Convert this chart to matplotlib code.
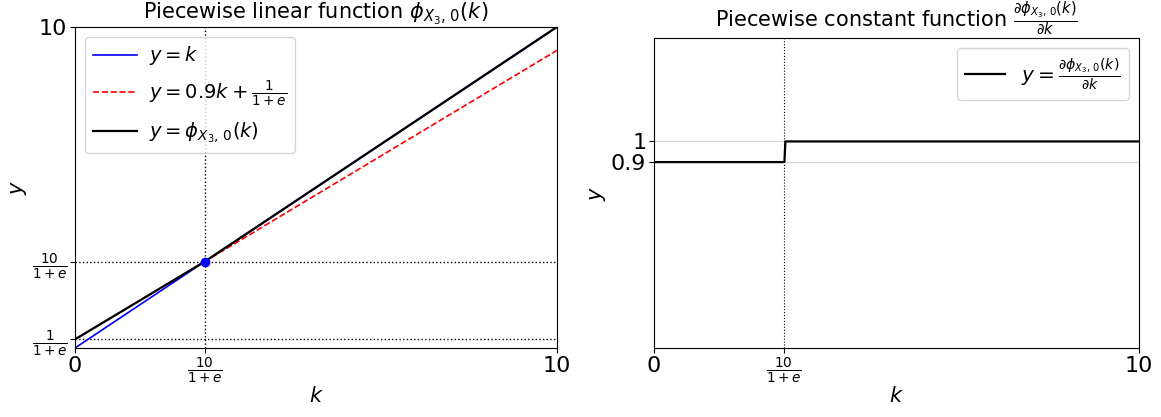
import numpy as np
import matplotlib
matplotlib.use("Agg")
import matplotlib.pyplot as plt

# kink of the piecewise function
kink = 10 / (1 + np.e)
low = 1 / (1 + np.e)

# left panel: k values and the three lines
k_pts = [0, kink, 10]
y_identity = [0, kink, 10]
y_affine = [low, kink, 0.9 * 10 + low]
y_phi = [low, kink, 10]

# right panel: derivative (step)
k_step = [0, kink, kink + 0.02, 10]
dphi = [0.9, 0.9, 1.0, 1.0]

frac_lbl = r'$\frac{10}{1+e}$'

fig = plt.figure(figsize=(11.61, 4.17), dpi=100)
ax1 = fig.add_axes([0.0646, 0.1655, 0.4152, 0.770])
ax2 = fig.add_axes([0.5633, 0.1655, 0.4177, 0.743])

# left
ax1.plot(k_pts, y_identity, color='blue', lw=1.2, label=r'$y = k$')
ax1.plot(k_pts, y_affine, color='red', ls='--', lw=1.2, label=r'$y = 0.9k + \frac{1}{1+e}$')
ax1.plot(k_pts, y_phi, color='black', lw=1.6, label=r'$y = \phi_{X_3,\,0}(k)$')
ax1.axvline(kink, color='black', ls=':', lw=1)
ax1.axhline(kink, color='black', ls=':', lw=1)
ax1.axhline(low, color='black', ls=':', lw=1)
ax1.plot([kink], [kink], 'o', color='blue', ms=6)
ax1.set_xlim(0, 10)
ax1.set_ylim(0, 10)
ax1.set_xticks([0, kink, 10])
ax1.set_xticklabels(['0', frac_lbl, '10'])
ax1.set_yticks([low, kink, 10])
ax1.set_yticklabels([r'$\frac{1}{1+e}$', frac_lbl, '10'])
ax1.tick_params(labelsize=16, pad=2)
for t in ax1.get_xticklabels()[1:2] + ax1.get_yticklabels()[:2]:
    t.set_fontsize(14)
ax1.set_xlabel(r'$k$', fontsize=15, labelpad=0)
ax1.set_ylabel(r'$y$', fontsize=15, labelpad=2)
ax1.set_title(r'Piecewise linear function $\phi_{X_3,\,0}(k)$', fontsize=15)
ax1.legend(loc='upper left', fontsize=14, handlelength=2.3, handletextpad=0.6,
           labelspacing=0.6)

# right
ax2.plot(k_step, dphi, color='black', lw=1.6,
         label=r'$y = \frac{\partial \phi_{X_3,\,0}(k)}{\partial k}$')
ax2.axvline(kink, color='black', ls=':', lw=0.8)
ax2.set_xlim(0, 10)
ax2.set_ylim(0, 1.5)
ax2.set_xticks([0, kink, 10])
ax2.set_xticklabels(['0', frac_lbl, '10'])
ax2.set_yticks([0.9, 1])
ax2.set_yticklabels(['0.9', '1'])
ax2.yaxis.grid(True, color='lightgray')
ax2.tick_params(labelsize=16, pad=2)
ax2.get_xticklabels()[1].set_fontsize(14)
ax2.set_xlabel(r'$k$', fontsize=15, labelpad=0)
ax2.set_ylabel(r'$y$', fontsize=15, labelpad=2)
ax2.set_title(r'Piecewise constant function $\frac{\partial \phi_{X_3,\,0}(k)}{\partial k}$', fontsize=15)
ax2.legend(loc='upper right', fontsize=14.5, handletextpad=0.8)

fig.savefig('out.png', dpi=100)
